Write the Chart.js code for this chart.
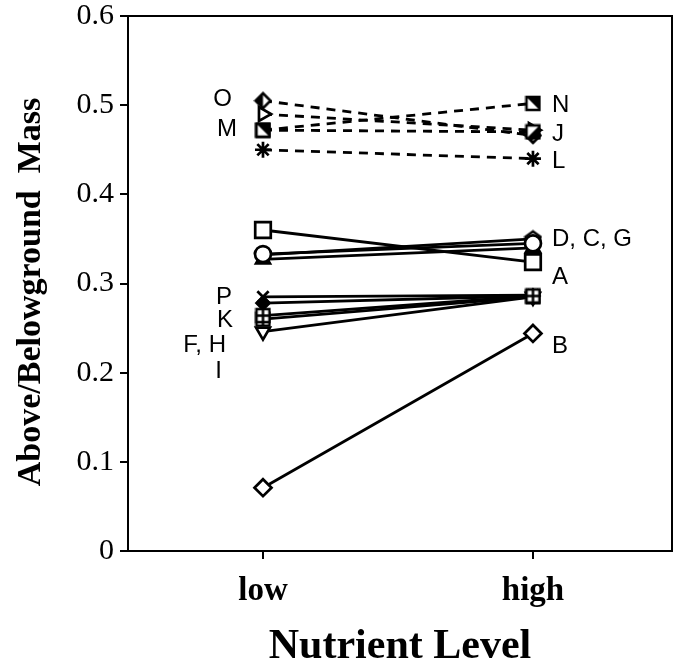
<!DOCTYPE html>
<html>
<head>
<meta charset="utf-8">
<script src="https://cdn.jsdelivr.net/npm/chart.js@4.4.1/dist/chart.umd.min.js"></script>
<style>
  html, body { margin: 0; padding: 0; background: #fff; }
</style>
</head>
<body>
<canvas id="myChart" width="675" height="664"></canvas>
<script>
// data
var levels   = ['low', 'high'];
var yTicks   = [0, 0.1, 0.2, 0.3, 0.4, 0.5, 0.6];

// series in drawing order (first one ends up on top)
var series     = ['B', 'A', 'C', 'D', 'G', 'F', 'H', 'P', 'K', 'I', 'N', 'J', 'O', 'M', 'L'];
var lowValues  = [0.071, 0.360, 0.333, 0.332, 0.327, 0.264, 0.260, 0.285, 0.278, 0.246, 0.472, 0.472, 0.505, 0.490, 0.450];
var highValues = [0.244, 0.324, 0.345, 0.350, 0.340, 0.286, 0.285, 0.287, 0.286, 0.285, 0.502, 0.470, 0.466, 0.472, 0.440];
var dashed     = ['N', 'J', 'O', 'M', 'L'];

// letter labels next to the points
var labelTexts  = ['O', 'M', 'P', 'K', 'F, H', 'I', 'N', 'J', 'L', 'D, C, G', 'A', 'B'];
var labelLevels = ['low', 'low', 'low', 'low', 'low', 'low', 'high', 'high', 'high', 'high', 'high', 'high'];
var labelValues = [0.506, 0.473, 0.285, 0.259, 0.231, 0.202, 0.500, 0.467, 0.437, 0.349, 0.307, 0.229];

// marker pictures
function makeMarker(size, draw) {
    var c = document.createElement('canvas');
    c.width = size;
    c.height = size;
    var g = c.getContext('2d');
    g.lineWidth = 2.5;
    g.strokeStyle = '#000';
    g.lineJoin = 'miter';
    draw(g, size);
    return c;
}

var sqHalfLow = makeMarker(17, function(g, s) {
    var p = 2;
    g.fillStyle = '#fff'; g.fillRect(p, p, s - 2 * p, s - 2 * p);
    g.fillStyle = '#000';
    g.beginPath(); g.moveTo(s - p, p); g.lineTo(s - p, s - p); g.lineTo(p, s - p); g.closePath(); g.fill();
    g.strokeRect(p, p, s - 2 * p, s - 2 * p);
});
var sqHalfUp = makeMarker(17, function(g, s) {
    var p = 2;
    g.fillStyle = '#fff'; g.fillRect(p, p, s - 2 * p, s - 2 * p);
    g.fillStyle = '#000';
    g.beginPath(); g.moveTo(p, p); g.lineTo(s - p, p); g.lineTo(s - p, s - p); g.closePath(); g.fill();
    g.strokeRect(p, p, s - 2 * p, s - 2 * p);
});
var diamondHalf = makeMarker(19, function(g, s) {
    var p = 2, c = s / 2;
    g.beginPath(); g.moveTo(c, p); g.lineTo(s - p, c); g.lineTo(c, s - p); g.lineTo(p, c); g.closePath();
    g.fillStyle = '#fff'; g.fill();
    g.fillStyle = '#000';
    g.beginPath(); g.moveTo(c, p); g.lineTo(p, c); g.lineTo(c, s - p); g.closePath(); g.fill();
    g.beginPath(); g.moveTo(c, p); g.lineTo(s - p, c); g.lineTo(c, s - p); g.lineTo(p, c); g.closePath();
    g.stroke();
});
var pentagon = makeMarker(19, function(g, s) {
    var c = s / 2, r = 8;
    g.beginPath();
    for (var i = 0; i < 5; i++) {
        var a = -Math.PI / 2 + i * 2 * Math.PI / 5;
        var px = c + r * Math.cos(a), py = c + 0.5 + r * Math.sin(a);
        if (i == 0) g.moveTo(px, py); else g.lineTo(px, py);
    }
    g.closePath();
    g.fillStyle = '#fff'; g.fill(); g.stroke();
});
var gridSquare = makeMarker(17, function(g, s) {
    var p = 2;
    g.fillStyle = '#fff'; g.fillRect(p, p, s - 2 * p, s - 2 * p);
    g.strokeRect(p, p, s - 2 * p, s - 2 * p);
    g.beginPath();
    g.moveTo(s / 2, p); g.lineTo(s / 2, s - p);
    g.moveTo(p, s / 2); g.lineTo(s - p, s / 2);
    g.stroke();
});

// marker style per series
var markers = {
    A: { style: 'rect', radius: 11, fill: '#fff' },
    B: { style: 'rectRot', radius: 8.5, fill: '#fff' },
    C: { style: 'circle', radius: 8, fill: '#fff' },
    D: { style: pentagon, radius: 9, fill: '#fff' },
    G: { style: 'triangle', radius: 8, fill: '#fff' },
    F: { style: gridSquare, radius: 9, fill: '#fff' },
    H: { style: gridSquare, radius: 9, fill: '#fff' },
    P: { style: 'crossRot', radius: 8, fill: '#fff' },
    K: { style: 'rectRot', radius: 6.5, fill: '#000' },
    I: { style: 'triangle', radius: 8, fill: '#fff', rotation: 180 },
    N: { style: sqHalfUp, radius: 9, fill: '#fff' },
    J: { style: sqHalfLow, radius: 9, fill: '#fff' },
    O: { style: diamondHalf, radius: 9, fill: '#fff' },
    M: { style: 'triangle', radius: 8, fill: '#fff', rotation: 90 },
    L: { style: 'star', radius: 8, fill: '#fff' }
};

var datasets = [];
for (var i = 0; i < series.length; i++) {
    var name = series[i];
    var mk = markers[name];
    datasets.push({
        label: name,
        data: [{ x: 1, y: lowValues[i] }, { x: 2, y: highValues[i] }],
        borderColor: '#000',
        borderWidth: 2.8,
        borderDash: dashed.indexOf(name) >= 0 ? [9, 7] : [],
        pointStyle: mk.style,
        pointRadius: mk.radius,
        pointRotation: mk.rotation || 0,
        pointBackgroundColor: mk.fill,
        pointBorderColor: '#000',
        pointBorderWidth: 2.7,
        fill: false,
        tension: 0
    });
}

var boxPlugin = {
    id: 'box',
    beforeDatasetsDraw: function(chart) {
        var a = chart.chartArea, ctx = chart.ctx;
        ctx.save();
        ctx.strokeStyle = '#000';
        ctx.lineWidth = 2;
        ctx.strokeRect(a.left, a.top, a.right - a.left, a.bottom - a.top);
        ctx.restore();
    }
};

var letterPlugin = {
    id: 'letters',
    afterDatasetsDraw: function(chart) {
        var ctx = chart.ctx;
        var xs = chart.scales.x, ys = chart.scales.y;
        ctx.save();
        ctx.fillStyle = '#000';
        ctx.font = '24px "Liberation Sans", Arial, sans-serif';
        ctx.textBaseline = 'middle';
        for (var i = 0; i < labelTexts.length; i++) {
            var lv = levels.indexOf(labelLevels[i]) + 1;
            var px = xs.getPixelForValue(lv);
            var py = ys.getPixelForValue(labelValues[i]);
            if (lv == 1) {
                ctx.textAlign = 'right';
                var off = { 'O': 31, 'M': 26, 'P': 31, 'K': 30, 'F, H': 37, 'I': 41 }[labelTexts[i]];
                ctx.fillText(labelTexts[i], px - off, py);
            } else {
                ctx.textAlign = 'left';
                ctx.fillText(labelTexts[i], px + 19, py);
            }
        }
        ctx.restore();
    }
};

var ctx = document.getElementById('myChart').getContext('2d');
var myChart = new Chart(ctx, {
    type: 'line',
    data: { datasets: datasets },
    plugins: [boxPlugin, letterPlugin],
    options: {
        responsive: false,
        animation: false,
        devicePixelRatio: 1,
        layout: { autoPadding: false, padding: { top: 16, right: 3, left: 0, bottom: 0 } },
        plugins: { legend: { display: false }, tooltip: { enabled: false } },
        scales: {
            x: {
                type: 'linear',
                min: 0.5,
                max: 2.515,
                afterBuildTicks: function(scale) {
                    scale.ticks = [{ value: 1 }, { value: 2 }];
                },
                afterFit: function(scale) {
                    scale.height = 113;
                    scale.paddingLeft = 0;
                    scale.paddingRight = 0;
                },
                grid: { drawOnChartArea: false, drawTicks: true, tickLength: 8, color: '#000', lineWidth: 2 },
                border: { display: false },
                ticks: {
                    padding: 13,
                    color: '#000',
                    font: { family: '"Liberation Serif", "Times New Roman", serif', size: 33, weight: 'bold' },
                    callback: function(v) { return levels[v - 1]; }
                },
                title: {
                    display: true,
                    text: 'Nutrient Level',
                    color: '#000',
                    font: { family: '"Liberation Serif", "Times New Roman", serif', size: 42, weight: 'bold' },
                    padding: { top: 0, bottom: -8 }
                }
            },
            y: {
                min: 0,
                max: 0.6,
                afterBuildTicks: function(scale) {
                    scale.ticks = yTicks.map(function(v) { return { value: v }; });
                },
                afterFit: function(scale) {
                    scale.width = 128;
                    scale.paddingTop = 0;
                    scale.paddingBottom = 0;
                },
                grid: { drawOnChartArea: false, drawTicks: true, tickLength: 8, color: '#000', lineWidth: 2 },
                border: { display: false },
                ticks: {
                    padding: 6,
                    color: '#000',
                    font: { family: '"Liberation Serif", "Times New Roman", serif', size: 30 },
                    callback: function(v) { return v === 0 ? '0' : v.toFixed(1); }
                },
                title: {
                    display: true,
                    text: 'Above/Belowground  Mass  ',
                    color: '#000',
                    font: { family: '"Liberation Serif", "Times New Roman", serif', size: 34, weight: 'bold' },
                    padding: { top: 11, bottom: 0 }
                }
            }
        }
    }
});
</script>
</body>
</html>
